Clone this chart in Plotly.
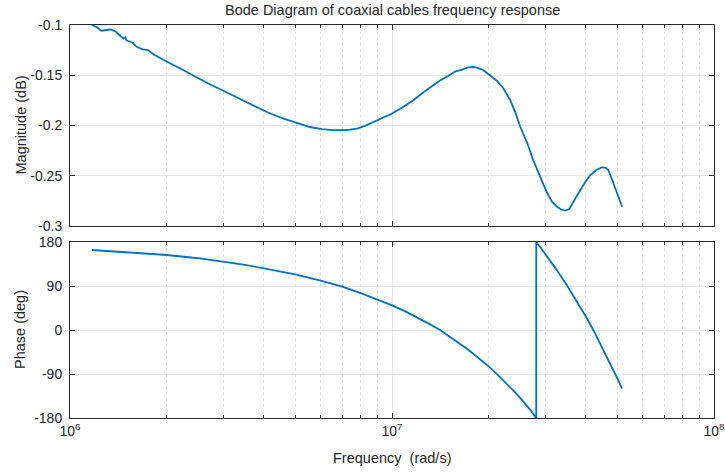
import plotly.graph_objects as go

# ---- data ----
mag_freq = [1.169e6, 1.209e6, 1.250e6, 1.290e6, 1.337e6, 1.385e6, 1.436e6, 1.467e6, 1.483e6, 1.499e6,
            1.564e6, 1.606e6, 1.681e6, 1.742e6, 1.832e6, 1.898e6, 1.996e6, 2.191e6, 2.354e6, 2.528e6,
            2.716e6, 2.917e6, 3.202e6, 3.440e6, 3.749e6, 4.086e6, 4.581e6, 5.065e6, 5.557e6, 6.057e6,
            6.554e6, 7.244e6, 7.783e6, 8.241e6, 8.665e6, 9.176e6, 1.000e7, 1.082e7, 1.162e7, 1.249e7,
            1.332e7, 1.410e7, 1.494e7, 1.570e7, 1.651e7, 1.723e7, 1.786e7, 1.838e7, 1.919e7, 2.017e7,
            2.121e7, 2.214e7, 2.328e7, 2.413e7, 2.501e7, 2.630e7, 2.745e7, 2.886e7, 3.034e7, 3.145e7,
            3.260e7, 3.355e7, 3.452e7, 3.552e7, 3.682e7, 3.844e7, 3.984e7, 4.129e7, 4.311e7, 4.491e7,
            4.598e7, 4.698e7, 4.869e7, 5.010e7, 5.182e7]
mag_db = [-0.1000, -0.1020, -0.1057, -0.1050, -0.1045, -0.1065, -0.1109, -0.1136, -0.1124, -0.1154,
          -0.1174, -0.1214, -0.1242, -0.1249, -0.1299, -0.1328, -0.1363, -0.1430, -0.1484, -0.1538,
          -0.1590, -0.1637, -0.1701, -0.1751, -0.1806, -0.1866, -0.1930, -0.1975, -0.2015, -0.2037,
          -0.2046, -0.2045, -0.2030, -0.2003, -0.1972, -0.1938, -0.1881, -0.1816, -0.1751, -0.1672,
          -0.1607, -0.1552, -0.1507, -0.1463, -0.1443, -0.1421, -0.1418, -0.1424, -0.1448, -0.1502,
          -0.1557, -0.1627, -0.1746, -0.1866, -0.2010, -0.2174, -0.2343, -0.2512, -0.2672, -0.2761,
          -0.2811, -0.2836, -0.2846, -0.2831, -0.2741, -0.2642, -0.2562, -0.2493, -0.2443, -0.2416,
          -0.2418, -0.2443, -0.2572, -0.2682, -0.2808]

phase_freq = [1.169e6, 1.5e6, 2e6, 2.5e6, 3e6, 3.5e6, 4e6, 5e6, 6e6, 7e6, 8e6, 9e6, 1e7,
              1.1e7, 1.2e7, 1.3e7, 1.41e7, 1.5e7, 1.6e7, 1.7e7, 1.8e7, 1.9e7, 2e7, 2.1e7, 2.2e7,
              2.3e7, 2.4e7, 2.5e7, 2.6e7, 2.7e7, 2.805e7,
              2.805e7, 2.9e7, 3e7, 3.25e7, 3.5e7, 3.75e7, 4e7, 4.25e7, 4.5e7, 4.75e7, 5e7, 5.18e7]
phase_deg = [163.6, 159.5, 153.4, 146.8, 139.8, 133.0, 126.2, 113.9, 100.9, 88.6, 75.5, 62.8, 50.5,
             38.0, 25.5, 13.0, 0.0, -11.8, -24.5, -37.2, -50.0, -62.5, -75.0, -87.7, -100.5,
             -113.2, -126.0, -138.8, -151.5, -165.0, -180.0,
             180.0, 167.8, 154.5, 122.5, 90.5, 59.0, 27.5, -4.0, -36.0, -67.0, -98.0, -120.0]

x_major = [1e6, 1e7, 1e8]
x_major_text = ["10<sup>6</sup>", "10<sup>7</sup>", "10<sup>8</sup>"]
x_minor = [2e6, 3e6, 4e6, 5e6, 6e6, 7e6, 8e6, 9e6, 2e7, 3e7, 4e7, 5e7, 6e7, 7e7, 8e7, 9e7]
mag_ticks = [-0.3, -0.25, -0.2, -0.15, -0.1]
mag_ticktext = ["-0.3", "-0.25", "-0.2", "-0.15", "-0.1"]
phase_ticks = [-180, -90, 0, 90, 180]
phase_ticktext = ["-180", "-90", "0", "90", "180"]

LINE = "#0072BD"
AX = "#262626"
FONT = "Liberation Sans, Arial, sans-serif"

fig = go.Figure()
fig.add_trace(go.Scatter(x=mag_freq, y=mag_db, mode="lines", line=dict(color=LINE, width=1.8),
                         xaxis="x", yaxis="y", showlegend=False))
fig.add_trace(go.Scatter(x=phase_freq, y=phase_deg, mode="lines", line=dict(color=LINE, width=1.8),
                         xaxis="x2", yaxis="y2", showlegend=False))

xcommon = dict(type="log", range=[6 - 1e-5, 8 + 1e-5], tickvals=x_major, ticktext=x_major_text,
               ticks="inside", ticklen=5, tickcolor=AX, tickwidth=1,
               showline=True, linecolor=AX, linewidth=1, mirror="allticks",
               showgrid=True, gridcolor="#e6e6e6", gridwidth=1, zeroline=False,
               minor=dict(tickvals=x_minor, ticks="inside", ticklen=3, tickcolor=AX,
                          showgrid=True, gridcolor="#dedede", griddash="dot", gridwidth=1),
               tickfont=dict(family=FONT, size=14, color=AX), ticklabeloverflow="allow",
               automargin=False)
ycommon = dict(ticks="inside", ticklen=5, tickcolor=AX, tickwidth=1,
               showline=True, linecolor=AX, linewidth=1, mirror="allticks",
               showgrid=True, gridcolor="#e6e6e6", gridwidth=1, zeroline=False,
               tickfont=dict(family=FONT, size=14, color=AX), ticklabelstandoff=4,
               automargin=False)

top_dom = [192 / 393, 1.0]
bot_dom = [0.0, 176 / 393]

fig.update_layout(
    width=725, height=472,
    margin=dict(l=70, r=11, t=25, b=54),
    paper_bgcolor="white", plot_bgcolor="white",
    font=dict(family=FONT, size=14, color=AX),
    xaxis=dict(xcommon, anchor="y", matches="x2", showticklabels=False),
    xaxis2=dict(xcommon, anchor="y2"),
    yaxis=dict(ycommon, domain=top_dom, range=[-0.3, -0.1], tickvals=mag_ticks, ticktext=mag_ticktext),
    yaxis2=dict(ycommon, domain=bot_dom, range=[-180, 180], tickvals=phase_ticks, ticktext=phase_ticktext),
    annotations=[
        dict(text="Bode Diagram of coaxial cables frequency response", xref="paper", yref="paper",
             x=0.5, y=1, yshift=15, showarrow=False, font=dict(family=FONT, size=14.5, color=AX),
             xanchor="center", yanchor="middle"),
        dict(text="Frequency  (rad/s)", xref="paper", yref="paper", x=0.5, y=0, yshift=-40,
             showarrow=False, font=dict(family=FONT, size=14.5, color=AX),
             xanchor="center", yanchor="middle"),
        dict(text="Magnitude (dB)", xref="paper", yref="paper", x=0, xshift=-50,
             y=(top_dom[0] + top_dom[1]) / 2, textangle=-90, showarrow=False,
             font=dict(family=FONT, size=14.5, color=AX), xanchor="center", yanchor="middle"),
        dict(text="Phase (deg)", xref="paper", yref="paper", x=0, xshift=-50,
             y=(bot_dom[0] + bot_dom[1]) / 2, textangle=-90, showarrow=False,
             font=dict(family=FONT, size=14.5, color=AX), xanchor="center", yanchor="middle"),
    ],
)

fig.write_html("out.html")
